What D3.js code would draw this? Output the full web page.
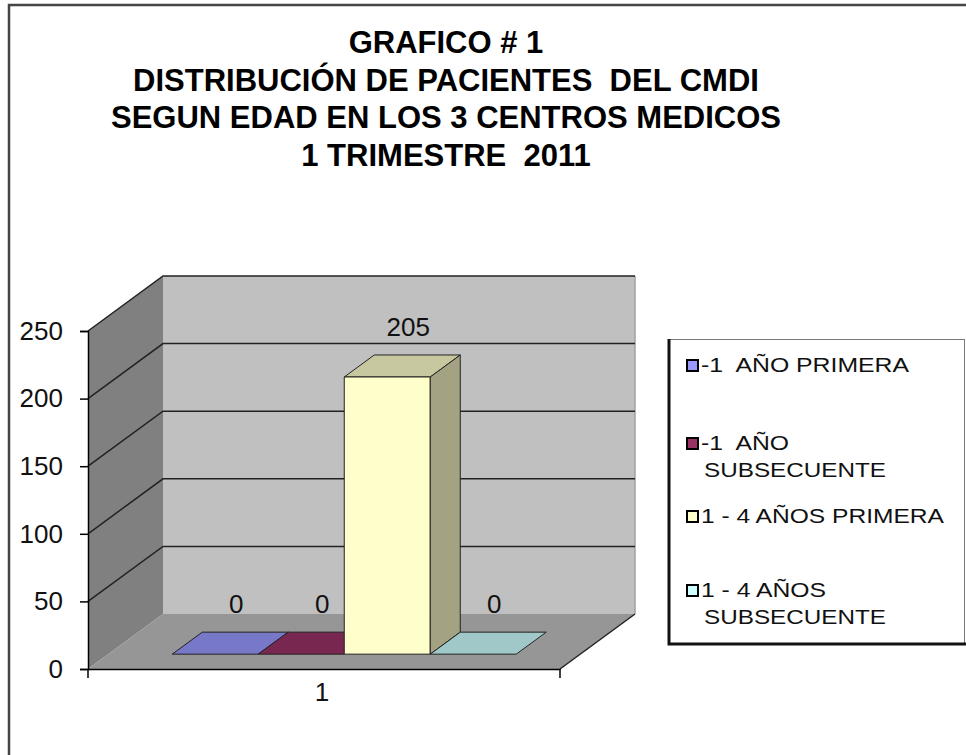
<!DOCTYPE html>
<html>
<head>
<meta charset="utf-8">
<script src="https://cdn.jsdelivr.net/npm/d3@7"></script>
<style>
  body { margin: 0; background: #fff; }
  svg { display: block; font-family: "Liberation Sans", Arial, sans-serif; }
  text { white-space: pre; }
</style>
</head>
<body>
<svg width="966" height="755"></svg>
<script>
const categories = ['1']
const series = ['-1  AÑO PRIMERA', '-1  AÑO SUBSECUENTE', '1 - 4 AÑOS PRIMERA', '1 - 4 AÑOS SUBSECUENTE']
const values = [0, 0, 205, 0]
const colors = ['#9999ff', '#993366', '#ffffcc', '#ccffff']
const yTicks = [0, 50, 100, 150, 200, 250]
const titleLines = ['GRAFICO # 1', 'DISTRIBUCIÓN DE PACIENTES  DEL CMDI', 'SEGUN EDAD EN LOS 3 CENTROS MEDICOS', '1 TRIMESTRE  2011']
const legendLines = [['-1  AÑO PRIMERA'], ['-1  AÑO', 'SUBSECUENTE'], ['1 - 4 AÑOS PRIMERA'], ['1 - 4 AÑOS', 'SUBSECUENTE']]

const svg = d3.select('svg')
const margin = { left: 88, right: 406, top: 331, bottom: 86 }
const width = 966
const height = 755
const depthX = 75
const depthY = 55
const barFront = 0.27
const barBack = 0.67

const x0 = d3.scaleBand()
  .domain(categories)
  .range([margin.left, width - margin.right])

const x1 = d3.scaleBand()
  .domain(series)
  .range([0, x0.bandwidth()])
  .paddingOuter(0.744)

const y = d3.scaleLinear()
  .domain([0, 250])
  .range([height - margin.bottom, margin.top])

// project a point of the front plane back by depth d (0..1)
const px = (x, d) => x + d * depthX
const py = (v, d) => y(v) - d * depthY
const poly = pts => 'M' + pts.map(p => p.join(',')).join('L') + 'Z'

const x0L = x0.range()[0]
const x0R = x0.range()[1]

// outer frame (only top and left visible)
svg.append('path')
  .attr('d', `M9,755V5H966`)
  .attr('fill', 'none')
  .attr('stroke', '#454545')
  .attr('stroke-width', 2.5)

// title
svg.append('g')
  .attr('font-weight', 'bold')
  .attr('font-size', 31)
  .attr('text-anchor', 'middle')
  .selectAll('text')
  .data(titleLines)
  .enter().append('text')
  .attr('x', 446)
  .attr('y', (d, i) => 53 + i * 37.5)
  .text(d => d)

// walls
svg.append('path')
  .attr('d', poly([[px(x0L, 1), py(0, 1)], [px(x0R, 1), py(0, 1)], [px(x0R, 1), py(250, 1)], [px(x0L, 1), py(250, 1)]]))
  .attr('fill', '#c0c0c0')
svg.append('path')
  .attr('d', poly([[x0L, y(0)], [px(x0L, 1), py(0, 1)], [px(x0L, 1), py(250, 1)], [x0L, y(250)]]))
  .attr('fill', '#808080')
svg.append('path')
  .attr('d', poly([[x0L, y(0)], [x0R, y(0)], [px(x0R, 1), py(0, 1)], [px(x0L, 1), py(0, 1)]]))
  .attr('fill', '#969696')

// wall edges
svg.append('line')
  .attr('x1', px(x0R, 1)).attr('y1', py(0, 1))
  .attr('x2', px(x0R, 1)).attr('y2', py(250, 1))
  .attr('stroke', '#a0a0a0')
  .attr('stroke-width', 1.5)
svg.append('line')
  .attr('x1', x0R).attr('y1', y(0))
  .attr('x2', px(x0R, 1)).attr('y2', py(0, 1))
  .attr('stroke', '#222')
  .attr('stroke-width', 1.5)

// gridlines on left and back walls
svg.append('g')
  .selectAll('path')
  .data(yTicks.filter(t => t > 0))
  .enter().append('path')
  .attr('d', t => `M${x0L},${y(t)}L${px(x0L, 1)},${py(t, 1)}L${px(x0R, 1)},${py(t, 1)}`)
  .attr('fill', 'none')
  .attr('stroke', '#222')
  .attr('stroke-width', 1.5)

// bars
const bars = svg.append('g')
  .attr('stroke', '#222')
  .attr('stroke-width', 1)
  .attr('stroke-linejoin', 'round')
  .selectAll('g')
  .data(series.map((s, i) => ({ s, v: values[i], c: colors[i] })))
  .enter().append('g')

const bx = d => x0(categories[0]) + x1(d.s)
const bw = x1.bandwidth()

bars.append('path')
  .attr('d', d => poly([[px(bx(d), barFront), py(d.v, barFront)], [px(bx(d) + bw, barFront), py(d.v, barFront)],
    [px(bx(d) + bw, barBack), py(d.v, barBack)], [px(bx(d), barBack), py(d.v, barBack)]]))
  .attr('fill', d => d3.color(d.c).darker(0.68))
bars.filter(d => d.v > 0).append('path')
  .attr('d', d => poly([[px(bx(d), barFront), py(0, barFront)], [px(bx(d) + bw, barFront), py(0, barFront)],
    [px(bx(d) + bw, barFront), py(d.v, barFront)], [px(bx(d), barFront), py(d.v, barFront)]]))
  .attr('fill', d => d.c)
bars.filter(d => d.v > 0).append('path')
  .attr('d', d => poly([[px(bx(d) + bw, barFront), py(0, barFront)], [px(bx(d) + bw, barBack), py(0, barBack)],
    [px(bx(d) + bw, barBack), py(d.v, barBack)], [px(bx(d) + bw, barFront), py(d.v, barFront)]]))
  .attr('fill', d => d3.color(d.c).darker(1.25))

// data labels
svg.append('g')
  .attr('font-size', 26)
  .attr('text-anchor', 'middle')
  .attr('fill', '#111')
  .selectAll('text')
  .data(series.map((s, i) => ({ s, v: values[i] })))
  .enter().append('text')
  .attr('x', d => px(bx(d) + bw / 2, barBack) - 9)
  .attr('y', d => py(d.v, barBack) - 19)
  .text(d => d.v)

// axes
const yAxis = svg.append('g')
  .attr('transform', `translate(${x0L},0)`)
  .call(d3.axisLeft(y).tickValues(yTicks).tickSize(8).tickPadding(17))
yAxis.select('.domain').attr('stroke', '#000').attr('stroke-width', 1.5)
yAxis.selectAll('.tick line').attr('stroke', '#000').attr('stroke-width', 1.5)
yAxis.selectAll('.tick text')
  .attr('font-size', 26)
  .attr('font-family', '"Liberation Sans", Arial, sans-serif')
  .attr('fill', '#111')

const xAxis = svg.append('g')
  .attr('transform', `translate(0,${y(0)})`)
  .call(d3.axisBottom(x0).tickSize(0).tickPadding(14))
xAxis.select('.domain').attr('stroke', '#000').attr('stroke-width', 1.5)
xAxis.selectAll('.tick text')
  .attr('font-size', 26)
  .attr('font-family', '"Liberation Sans", Arial, sans-serif')
  .attr('fill', '#111')
  .attr('dx', -2)
xAxis.selectAll('.edge')
  .data([x0L, x0R])
  .enter().append('line')
  .attr('x1', d => d).attr('x2', d => d)
  .attr('y1', 0).attr('y2', 9)
  .attr('stroke', '#000')
  .attr('stroke-width', 1.5)

// legend
const legend = svg.append('g')
legend.append('rect')
  .attr('x', 668.5).attr('y', 339.5)
  .attr('width', 296).attr('height', 304)
  .attr('fill', '#fff')
  .attr('stroke', '#777')
  .attr('stroke-width', 1)
legend.append('path')
  .attr('d', 'M669,339V644H966')
  .attr('fill', 'none')
  .attr('stroke', '#111')
  .attr('stroke-width', 3)

const legendTop = [372, 450, 523, 597]
const legendLen = [[208], [88, 182], [243], [125, 182]]
const items = legend.selectAll('.item')
  .data(legendLines)
  .enter().append('g')
  .attr('class', 'item')

items.append('rect')
  .attr('x', 687).attr('y', (d, i) => legendTop[i] - 12)
  .attr('width', 11).attr('height', 11)
  .attr('fill', (d, i) => colors[i])
  .attr('stroke', '#000')
  .attr('stroke-width', 2)

items.each(function (lines, i) {
  d3.select(this).selectAll('text')
    .data(lines)
    .enter().append('text')
    .attr('x', (d, j) => j === 0 ? 701 : 704)
    .attr('y', (d, j) => legendTop[i] + j * 27)
    .attr('font-size', 21)
    .attr('fill', '#111')
    .attr('textLength', (d, j) => legendLen[i][j])
    .attr('lengthAdjust', 'spacingAndGlyphs')
    .text(d => d)
})
</script>
</body>
</html>
